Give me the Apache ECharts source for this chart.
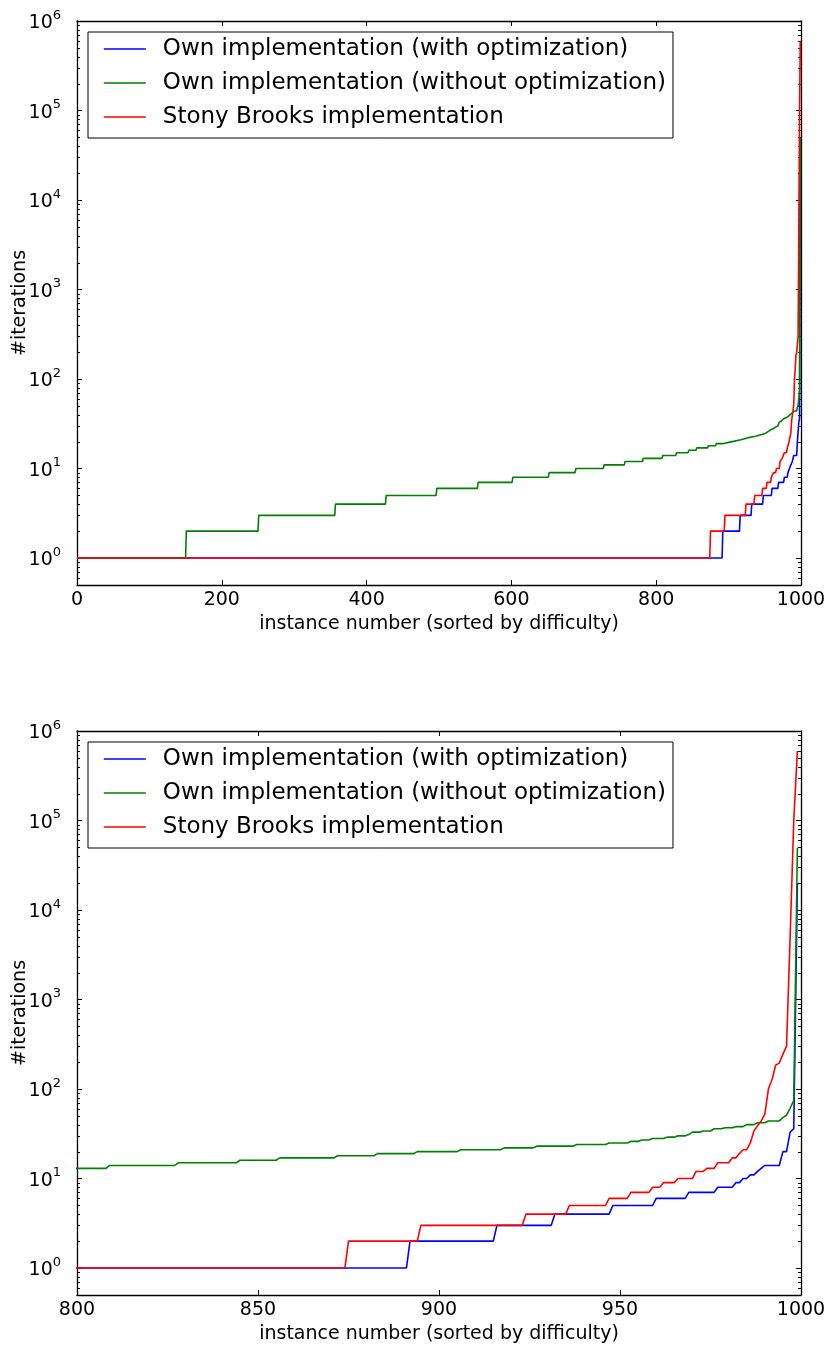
<!DOCTYPE html>
<html><head><meta charset="utf-8">
<script src="https://cdn.jsdelivr.net/npm/echarts@6/dist/echarts.min.js"></script>
<style>html,body{margin:0;padding:0;background:#fff}#c{width:830px;height:1345px}</style>
</head><body><div id="c"></div>
<script>
// ---------- data ----------
const seriesNames = ['Own implementation (with optimization)', 'Own implementation (without optimization)', 'Stony Brooks implementation'];
const seriesColors = ['#0000ff', '#008000', '#ff0000'];
const lastIndex = 999;
// run-length encoded sorted iteration counts: index where each level starts, and the level
const blueStarts = [0, 892, 916, 932, 948, 960, 969, 977, 982, 984, 986, 988, 989, 990, 995, 997, 998, 999];
const blueValues = [1, 2, 3, 4, 5, 6, 7, 8, 9, 10, 11, 12, 13, 14, 20, 33, 36, 20000];
const greenStarts = [0, 151, 251, 357, 427, 497, 554, 602, 652, 689, 728, 757, 782, 809, 828, 845, 856, 872, 883, 894, 906, 918, 927, 938, 947, 953, 956, 959, 963, 966, 969, 970, 973, 976, 979, 982, 985, 988, 991, 995, 996, 997, 998, 999];
const greenValues = [1, 2, 3, 4, 5, 6, 7, 8, 9, 10, 11, 12, 13, 14, 15, 16, 17, 18, 19, 20, 21, 22, 23, 24, 25, 26, 27, 28, 29, 30, 31, 33, 34, 36, 37, 38, 40, 42, 44, 48, 51, 61, 75, 50000];
const redStarts = [0, 875, 895, 924, 936, 947, 953, 959, 962, 966, 971, 974, 977, 981, 983, 984, 986, 987, 988, 989, 990, 991, 992, 993, 994, 995, 996, 997, 998, 999];
const redValues = [1, 2, 3, 4, 5, 6, 7, 8, 9, 10, 12, 13, 15, 17, 19, 21, 25, 34, 39, 44, 52, 100, 128, 185, 195, 245, 300, 5000, 100000, 600000];
// axes
const topXRange = [0, 1000], topXInterval = 200;
const botXRange = [800, 1000], botXInterval = 50;
const yRange = [0.5, 1e6];
const minorMultipliers = [2, 3, 4, 5, 6, 7, 8, 9];
const minorDecades = [0.1, 1, 10, 100, 1000, 10000, 100000];
const xTitle = 'instance number (sorted by difficulty)';
const yTitle = '#iterations';

// ---------- build ----------
function runsToPoints(starts, values) {
  const pts = [];
  for (let i = 0; i < starts.length; i++) {
    const s = starts[i];
    const e = i + 1 < starts.length ? starts[i + 1] - 1 : lastIndex;
    pts.push([s, values[i]]);
    if (e > s) pts.push([e, values[i]]);
  }
  return pts;
}
const seriesData = [runsToPoints(blueStarts, blueValues), runsToPoints(greenStarts, greenValues), runsToPoints(redStarts, redValues)];
const minorTicks = [];
minorDecades.forEach(d => minorMultipliers.forEach(m => { const v = d * m; if (v > yRange[0] && v < yRange[1]) minorTicks.push(v); }));

const FONT = 'DejaVu Sans';
const grids = [
  { left: 77, right: 29, top: 21, height: 564, outerBoundsMode: 'none', containLabel: false },
  { left: 77, right: 29, top: 731, height: 564, outerBoundsMode: 'none', containLabel: false }
];
const xRanges = [topXRange, botXRange];
const xIntervals = [topXInterval, botXInterval];
const axisLine = { show: true, onZero: false, lineStyle: { color: '#000', width: 1.3 } };

const xAxis = [], yAxis = [], series = [], legend = [];
grids.forEach((g, gi) => {
  const xr = xRanges[gi];
  xAxis.push({
    type: 'value', gridIndex: gi, position: 'bottom', min: xr[0], max: xr[1], interval: xIntervals[gi],
    name: xTitle, nameLocation: 'middle', nameGap: 30, nameMoveOverlap: false,
    nameTextStyle: { fontFamily: FONT, fontSize: 19, color: '#000' },
    axisLine, splitLine: { show: false },
    axisTick: { inside: true, length: 5, lineStyle: { color: '#000', width: 1 } },
    axisLabel: { margin: 6, fontFamily: FONT, fontSize: 19, color: '#000', formatter: v => String(v) }
  });
  xAxis.push({
    type: 'value', gridIndex: gi, position: 'top', min: xr[0], max: xr[1], interval: xIntervals[gi],
    axisLine, splitLine: { show: false },
    axisTick: { inside: true, length: 5, lineStyle: { color: '#000', width: 1 } },
    axisLabel: { show: false }
  });
  const yBase = {
    type: 'log', logBase: 10, gridIndex: gi, min: yRange[0], max: yRange[1],
    axisLine, splitLine: { show: false }, minorTick: { show: false },
    axisTick: { inside: true, length: 5, lineStyle: { color: '#000', width: 1 } }
  };
  yAxis.push(Object.assign({}, yBase, {
    position: 'left', name: yTitle, nameLocation: 'middle', nameGap: 47, nameMoveOverlap: false,
    nameTextStyle: { fontFamily: FONT, fontSize: 19, color: '#000' },
    axisLabel: {
      margin: 16, showMinLabel: false,
      formatter: v => {
        const e = Math.round(Math.log10(v));
        if (Math.abs(v - Math.pow(10, e)) > 1e-6 * v) return '';
        return '{b|10}{s|' + e + '}';
      },
      rich: {
        b: { fontFamily: FONT, fontSize: 19, color: '#000', lineHeight: 24, verticalAlign: 'bottom' },
        s: { fontFamily: FONT, fontSize: 13, color: '#000', lineHeight: 14, verticalAlign: 'top' }
      }
    }
  }));
  yAxis.push(Object.assign({}, yBase, { position: 'right', axisLabel: { show: false } }));

  seriesNames.forEach((name, si) => {
    series.push({
      type: 'line', name, xAxisIndex: gi * 2, yAxisIndex: gi * 2, data: seriesData[si],
      symbol: 'none', showSymbol: false, animation: false, clip: true,
      lineStyle: { color: seriesColors[si], width: 1.6 }, itemStyle: { color: seriesColors[si] }
    });
  });
  series.push({
    type: 'custom', xAxisIndex: gi * 2, yAxisIndex: gi * 2, silent: true, animation: false, clip: false,
    data: minorTicks.map(v => [xr[0], v]),
    renderItem: (params, api) => {
      const v = api.value(1);
      const p = api.coord([xr[0], v]);
      const q = api.coord([xr[1], v]);
      const st = { stroke: '#000', lineWidth: 1 };
      return { type: 'group', children: [
        { type: 'line', shape: { x1: p[0], y1: Math.round(p[1]) + 0.5, x2: p[0] + 3, y2: Math.round(p[1]) + 0.5 }, style: st },
        { type: 'line', shape: { x1: q[0] - 3, y1: Math.round(q[1]) + 0.5, x2: q[0], y2: Math.round(q[1]) + 0.5 }, style: st }
      ] };
    }
  });
  legend.push({
    data: seriesNames, orient: 'vertical', left: 88, top: g.top + 11,
    backgroundColor: '#fff', borderColor: '#000', borderWidth: 1, borderRadius: 0,
    padding: [5, 7, 9, 15], itemWidth: 42, itemHeight: 24, itemGap: 10, selectedMode: false,
    lineStyle: { width: 1.6 },
    itemStyle: { opacity: 0, borderWidth: 0 },
    textStyle: { fontFamily: FONT, fontSize: 23, color: '#000', lineHeight: 24, padding: [0, 0, 0, 12] }
  });
});

const chart = echarts.init(document.getElementById('c'), null, { renderer: 'canvas' });
chart.setOption({ animation: false, backgroundColor: '#fff', grid: grids, xAxis, yAxis, series, legend });
</script></body></html>
